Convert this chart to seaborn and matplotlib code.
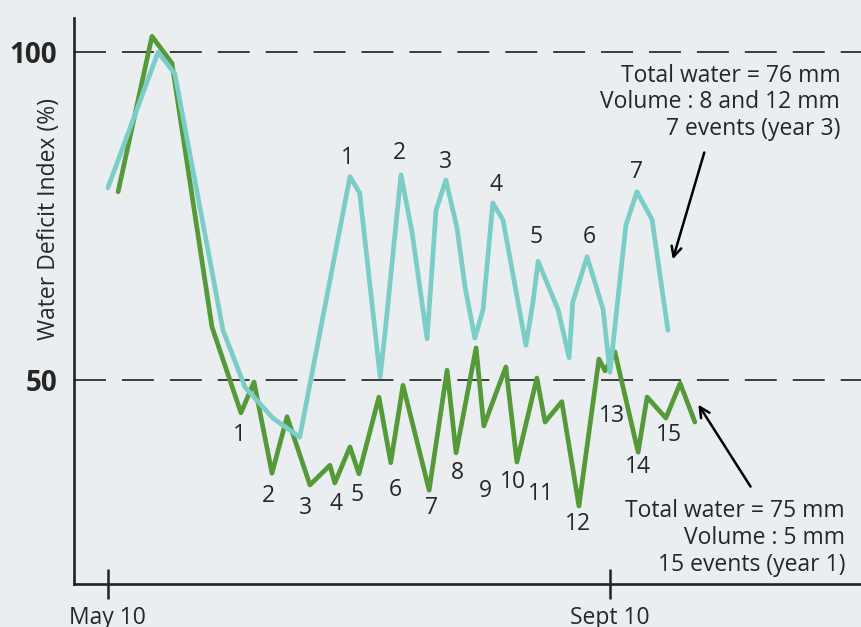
import matplotlib
matplotlib.use("Agg")
import matplotlib.pyplot as plt
import seaborn as sns
import pandas as pd

# ---- data (days after May 10, Water Deficit Index %) ----
year1_day = [2.5, 10.8, 15.7, 25.5, 32.6, 35.8, 40.2, 43.9, 49.5, 54.4, 55.6, 59.3,
             61.5, 66.4, 69.3, 72.3, 78.7, 83.1, 85.3, 90.2, 92.1, 97.5, 100.2,
             105.1, 107.1, 111.2, 115.4, 120.3, 121.8, 124.2, 129.9, 132.1, 136.7,
             140.2, 143.8]
year1_wdi = [78.7, 102.4, 98.3, 58.1, 45.0, 49.7, 35.8, 44.4, 34.0, 37.0, 34.3, 39.8,
             35.7, 47.4, 37.4, 49.2, 33.2, 51.5, 38.9, 54.9, 43.0, 52.0, 37.5,
             50.3, 43.6, 46.7, 30.8, 53.2, 51.4, 54.3, 39.0, 47.4, 44.2,
             49.5, 43.6]

year3_day = [0.0, 12.3, 16.4, 28.2, 33.6, 40.4, 47.0, 59.3, 61.7, 66.7, 67.9, 71.8,
             74.5, 78.2, 80.4, 82.8, 85.5, 87.5, 89.9, 91.9, 94.3, 96.8, 102.4,
             104.1, 105.4, 110.3, 113.0, 113.9, 117.4, 121.3, 123.0, 126.9, 129.6,
             133.3, 137.2]
year3_wdi = [79.3, 100.0, 96.7, 57.6, 48.9, 44.2, 41.3, 81.0, 78.5, 50.5, 57.2, 81.3,
             72.6, 56.3, 75.9, 80.5, 73.3, 64.2, 56.4, 60.7, 77.0, 74.4, 55.3,
             61.7, 68.1, 60.7, 53.4, 61.9, 68.8, 60.8, 51.2, 73.6, 78.7,
             74.5, 57.6]

series_names = ["year 1", "year 3"]
x_tick_days = [0, 123]
x_tick_labels = ["May 10", "Sept 10"]
y_tick_values = [50, 100]
y_tick_labels = ["50", "100"]

year3_event_labels = ["1", "2", "3", "4", "5", "6", "7"]
year3_label_x = [58.8, 71.5, 82.8, 95.1, 104.9, 117.9, 129.6]
year3_label_y = [83.8, 84.6, 83.2, 79.7, 71.8, 71.8, 81.7]

year1_event_labels = [str(i) for i in range(1, 16)]
year1_label_x = [32.3, 39.4, 48.5, 55.9, 61.0, 70.3, 79.4, 85.5, 92.4, 99.2, 106.1,
                 115.2, 123.5, 129.9, 137.5]
year1_label_y = [41.6, 32.3, 30.5, 31.1, 32.5, 33.2, 30.5, 35.8, 33.1, 34.5, 32.6,
                 28.0, 44.5, 36.7, 41.6]

note_year3 = ["Total water = 76 mm", "Volume : 8 and 12 mm", "7 events (year 3)"]
note_year1 = ["Total water = 75 mm", "Volume : 5 mm", "15 events (year 1)"]

# ---- style ----
sns.set_theme(style="white")
plt.rcParams['font.family'] = ['Open Sans', 'DejaVu Sans']
plt.rcParams['lines.scale_dashes'] = False

BG = '#EBEEF1'
GREEN = '#559A38'
CYAN = '#7BCDC8'
TXT = '#262626'
FS = 16.5

fig = plt.figure(figsize=(8.61, 6.27), dpi=100, facecolor=BG)
ax = fig.add_axes([74 / 861, 43 / 627, 787 / 861, 566 / 627])
ax.set_facecolor(BG)

df = pd.concat([
    pd.DataFrame({"day": year1_day, "wdi": year1_wdi, "series": series_names[0]}),
    pd.DataFrame({"day": year3_day, "wdi": year3_wdi, "series": series_names[1]}),
])

for yv in y_tick_values:
    ax.axhline(yv, color='#3c3c3c', lw=1.4, dashes=(23, 11.5), zorder=1)

sns.lineplot(data=df, x="day", y="wdi", hue="series", hue_order=series_names,
             palette=[GREEN, CYAN], estimator=None, sort=False, linewidth=3.4,
             legend=False, ax=ax, zorder=3)

ax.set_xlim(-8.3, 184.5)
ax.set_ylim(18.9, 105.2)

ax.set_xticks(x_tick_days)
ax.set_xticklabels(x_tick_labels, fontsize=FS, color=TXT)
ax.set_yticks(y_tick_values)
ax.set_yticklabels(y_tick_labels, fontsize=20, fontweight='bold', color=TXT)
ax.tick_params(axis='x', bottom=True, direction='inout', length=22, width=1.8,
               color='#222222', pad=5)
ax.tick_params(axis='y', left=False, length=0, pad=12)

for side in ['top', 'right']:
    ax.spines[side].set_visible(False)
for side in ['left', 'bottom']:
    ax.spines[side].set_color('#222222')
    ax.spines[side].set_linewidth(1.9)

ax.set_xlabel("")
ax.set_ylabel("Water Deficit Index (%)", fontsize=FS, color=TXT)
ax.yaxis.set_label_coords(-0.017, 0.645)

for t, x, y in zip(year3_event_labels, year3_label_x, year3_label_y):
    ax.text(x, y, t, fontsize=FS, color=TXT, ha='center', va='center')
for t, x, y in zip(year1_event_labels, year1_label_x, year1_label_y):
    ax.text(x, y, t, fontsize=FS, color=TXT, ha='center', va='center')

for line, y in zip(note_year3, [96.3, 92.4, 88.3]):
    ax.text(179.4, y, line, fontsize=FS, color=TXT, ha='right', va='center')
for line, y in zip(note_year1, [30.0, 25.9, 21.8]):
    ax.text(180.6, y, line, fontsize=FS, color=TXT, ha='right', va='center')

ax.annotate("", xy=(138.2, 68.0), xytext=(146.3, 85.1),
            arrowprops=dict(arrowstyle='->,head_length=0.6,head_width=0.3', color='black', lw=1.8))
ax.annotate("", xy=(144.3, 46.6), xytext=(157.8, 33.4),
            arrowprops=dict(arrowstyle='->,head_length=0.6,head_width=0.3', color='black', lw=1.8))

fig.savefig("out.png", dpi=100, facecolor=BG)
